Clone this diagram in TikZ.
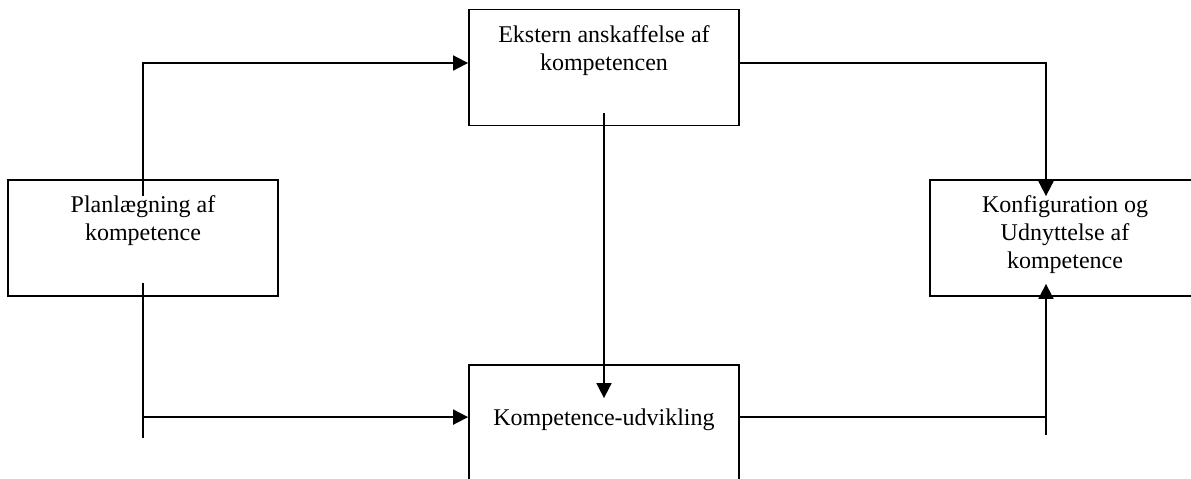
\documentclass[tikz,border=0pt]{standalone}
\usepackage{fontspec}
\setmainfont{Liberation Serif}
\usetikzlibrary{arrows.meta,calc}

\tikzset{
  box/.style={draw, line width=0.9pt, rectangle, minimum width=135pt, minimum height=58pt, inner sep=0pt},
  txt/.style={anchor=north, align=center, inner sep=0pt, font=\fontsize{12}{14}\selectfont},
  link/.style={line width=0.9pt},
  arr/.style={link, -{Triangle[length=7.5pt,width=7.5pt]}}
}

\begin{document}
% one unit = one pixel of a 1191 x 478 canvas, y pointing down
\begin{tikzpicture}[x=0.5pt, y=-0.5pt]
  \useasboundingbox (0,0) rectangle (1191,478);

  % boxes
  \node[box] (plan)    at (143,238)  {};
  \node[box] (ekstern) at (604,67.5) {};
  \node[box] (konfig)  at (1065,238) {};
  \node[box] (udv)     at (604,423)  {};

  % box texts
  \node[txt] (plantxt) at ($(plan.north)+(0,13.4)$)    {\strut Planlægning af\\kompetence};
  \node[txt] (ekstxt)  at ($(ekstern.north)+(0,13.4)$) {\strut Ekstern anskaffelse af\\kompetencen};
  \node[txt] (konftxt) at ($(konfig.north)+(0,13.4)$)  {\strut Konfiguration og\\Udnyttelse af\\kompetence};
  \node[txt] (udvtxt)  at ($(udv.north)+(0,41.4)$)     {\strut Kompetence-udvikling};

  % connector end points
  \coordinate (plout) at ($(plan.south)+(0,-14)$);
  \coordinate (udvin) at ($(udv.north west)+(0,53)$);
  \coordinate (udvout) at ($(udv.north east)+(0,53)$);
  \coordinate (kin)   at ($(konfig.south)+(-19,-13)$);

  % planning -> external acquisition
  \draw[arr] ($(plan.north)+(0,17)$) |- ($(ekstern.west)+(0,-4.5)$);
  % external acquisition -> configuration
  \draw[arr] ($(ekstern.east)+(0,-4.5)$) -| ($(konfig.north)+(-19,17)$);
  % external acquisition -> development
  \draw[arr] ($(ekstern.south)+(0,-13)$) -- ($(udv.north)+(0,34)$);
  % planning -> development
  \draw[link] (plout) -- ++(0,155);
  \draw[arr] (plout |- udvin) -- (udvin);
  % development -> configuration
  \draw[link] (udvout) -- (kin |- udvout);
  \draw[arr] ($(kin |- udvout)+(0,18)$) -- (kin);
\end{tikzpicture}
\end{document}
